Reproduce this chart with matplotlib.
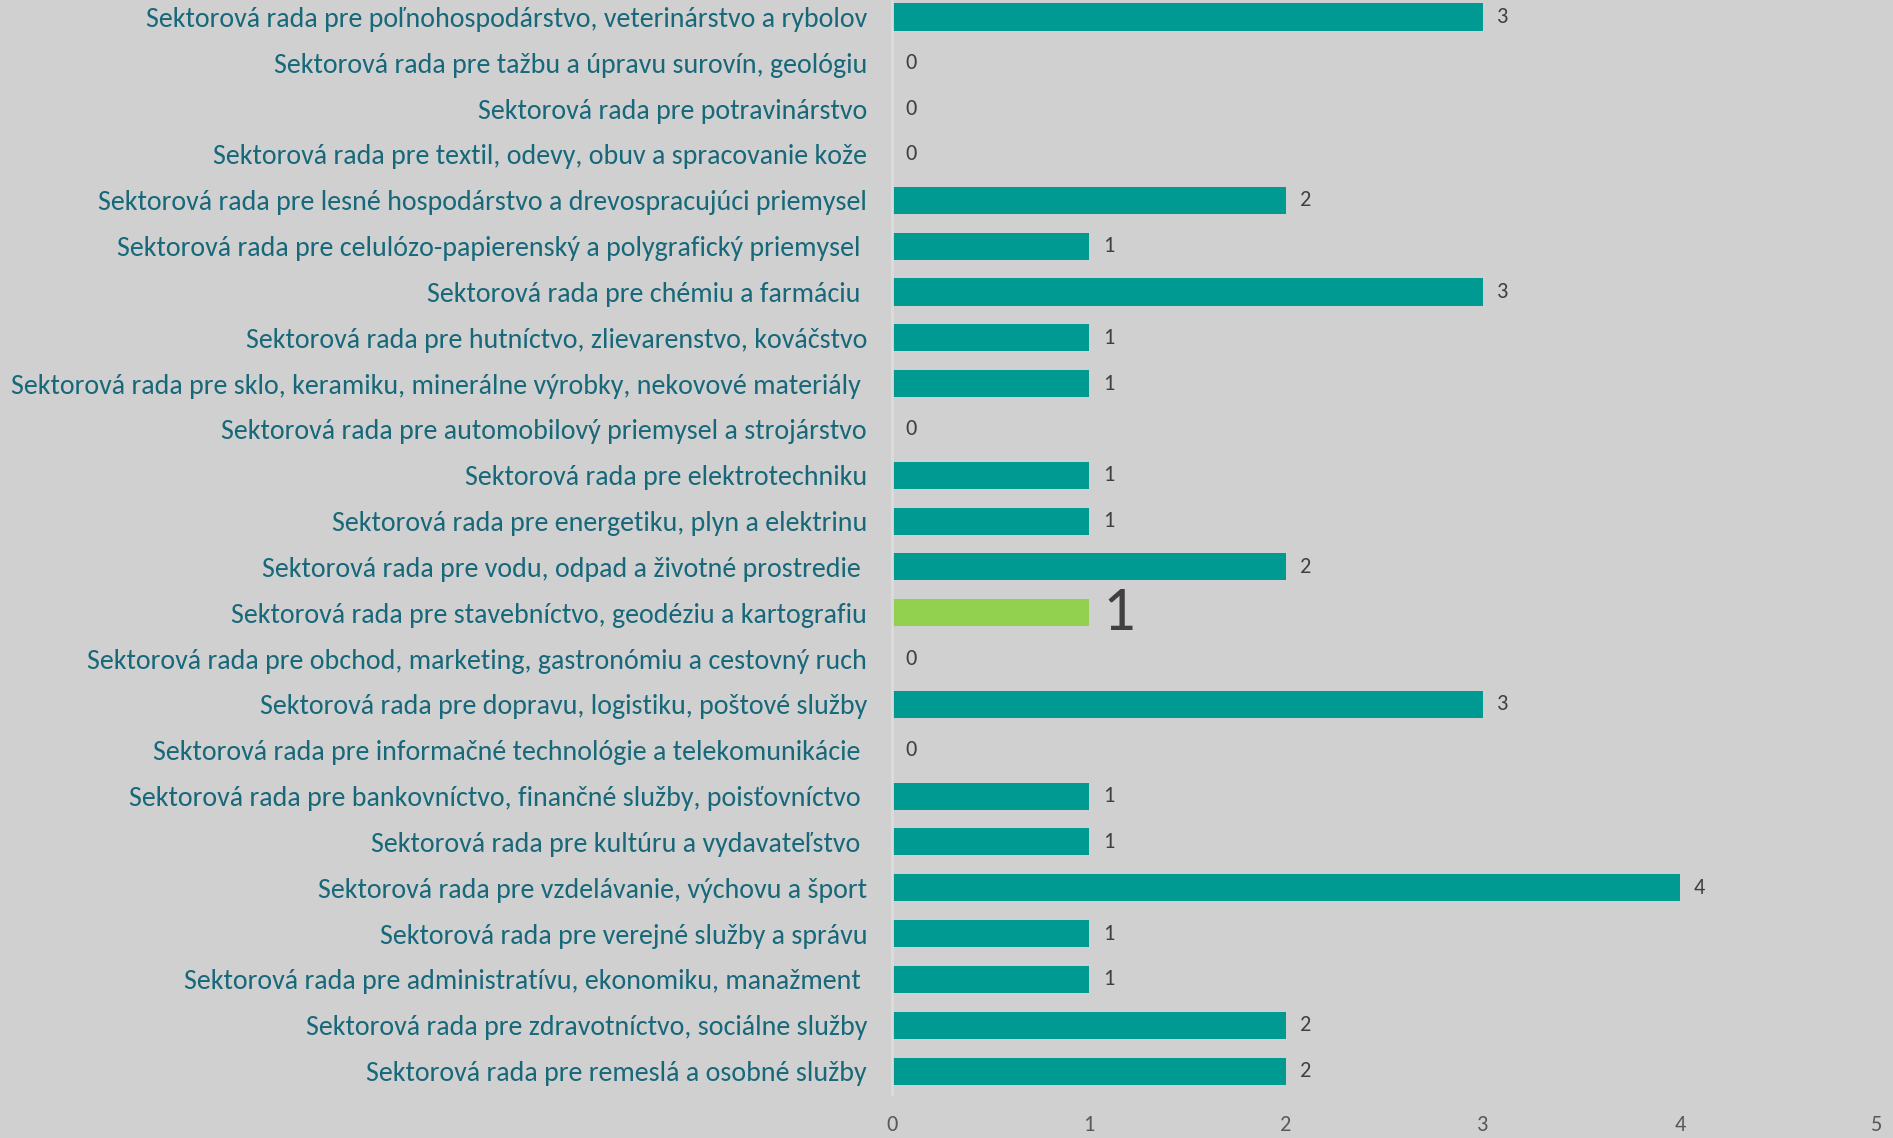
import matplotlib
matplotlib.use("Agg")
import matplotlib.pyplot as plt
from matplotlib import font_manager

categories = [
    "Sektorová rada pre poľnohospodárstvo, veterinárstvo a rybolov",
    "Sektorová rada pre tažbu a úpravu surovín, geológiu",
    "Sektorová rada pre potravinárstvo",
    "Sektorová rada pre textil, odevy, obuv a spracovanie kože",
    "Sektorová rada pre lesné hospodárstvo a drevospracujúci priemysel",
    "Sektorová rada pre celulózo-papierenský a polygrafický priemysel ",
    "Sektorová rada pre chémiu a farmáciu ",
    "Sektorová rada pre hutníctvo, zlievarenstvo, kováčstvo",
    "Sektorová rada pre sklo, keramiku, minerálne výrobky, nekovové materiály ",
    "Sektorová rada pre automobilový priemysel a strojárstvo",
    "Sektorová rada pre elektrotechniku",
    "Sektorová rada pre energetiku, plyn a elektrinu",
    "Sektorová rada pre vodu, odpad a životné prostredie ",
    "Sektorová rada pre stavebníctvo, geodéziu a kartografiu",
    "Sektorová rada pre obchod, marketing, gastronómiu a cestovný ruch",
    "Sektorová rada pre dopravu, logistiku, poštové služby",
    "Sektorová rada pre informačné technológie a telekomunikácie ",
    "Sektorová rada pre bankovníctvo, finančné služby, poisťovníctvo ",
    "Sektorová rada pre kultúru a vydavateľstvo ",
    "Sektorová rada pre vzdelávanie, výchovu a šport",
    "Sektorová rada pre verejné služby a správu",
    "Sektorová rada pre administratívu, ekonomiku, manažment ",
    "Sektorová rada pre zdravotníctvo, sociálne služby",
    "Sektorová rada pre remeslá a osobné služby",
]
values = [3, 0, 0, 0, 2, 1, 3, 1, 1, 0, 1, 1, 2, 1, 0, 3, 0, 1, 1, 4, 1, 1, 2, 2]
highlight_index = 13
x_ticks = [0, 1, 2, 3, 4, 5]

names = {f.name for f in font_manager.fontManager.ttflist}
fam = "DejaVu Sans"
for cand in ["Carlito", "Liberation Sans Narrow", "Roboto Condensed", "Open Sans Condensed",
             "Noto Sans Condensed", "Open Sans", "Noto Sans", "Liberation Sans"]:
    if cand in names:
        fam = cand
        break
plt.rcParams['font.family'] = [fam, 'DejaVu Sans']

bg = "#d0d0d0"
teal = "#009a93"
green = "#92d050"
label_col = "#17687a"

fig = plt.figure(figsize=(18.93, 11.38), dpi=100, facecolor=bg)
ax = fig.add_axes([892/1893, 1 - 1094/1138, (1877-892)/1893, 1094/1138])
ax.set_facecolor(bg)

# size the label font so that the longest label spans about 850 px, as in the reference
renderer = fig.canvas.get_renderer()
longest = max(categories, key=len)
probe = fig.text(0, 0, longest.strip(), fontsize=20)
w = probe.get_window_extent(renderer).width
probe.remove()
label_fs = min(20 * 850 / w, 22)

y = list(range(len(categories)))
colors = [green if i == highlight_index else teal for i in y]
ax.barh(y, values, height=0.59, color=colors, zorder=2)

ax.set_xlim(0, 5)
ax.set_ylim(23.5, -0.371)
ax.set_yticks(y)
ax.set_yticklabels(categories, fontsize=label_fs, color=label_col)
ax.set_xticks(x_ticks)
ax.set_xticklabels([str(t) for t in x_ticks], fontsize=16, color="#595959")
ax.tick_params(axis='y', length=0, pad=18)
ax.tick_params(axis='x', length=0, pad=15)
for s in ["top", "right", "bottom"]:
    ax.spines[s].set_visible(False)
ax.spines["left"].set_color("#dcdcdc")
ax.spines["left"].set_linewidth(2)

for i, v in enumerate(values):
    if i == highlight_index:
        ax.text(v + 0.07, i, str(v), va="center", ha="left", fontsize=46, color="#404040")
    else:
        ax.text(v + 0.07, i, str(v), va="center", ha="left", fontsize=16, color="#404040")

fig.savefig("out.png", dpi=100, facecolor=bg)
